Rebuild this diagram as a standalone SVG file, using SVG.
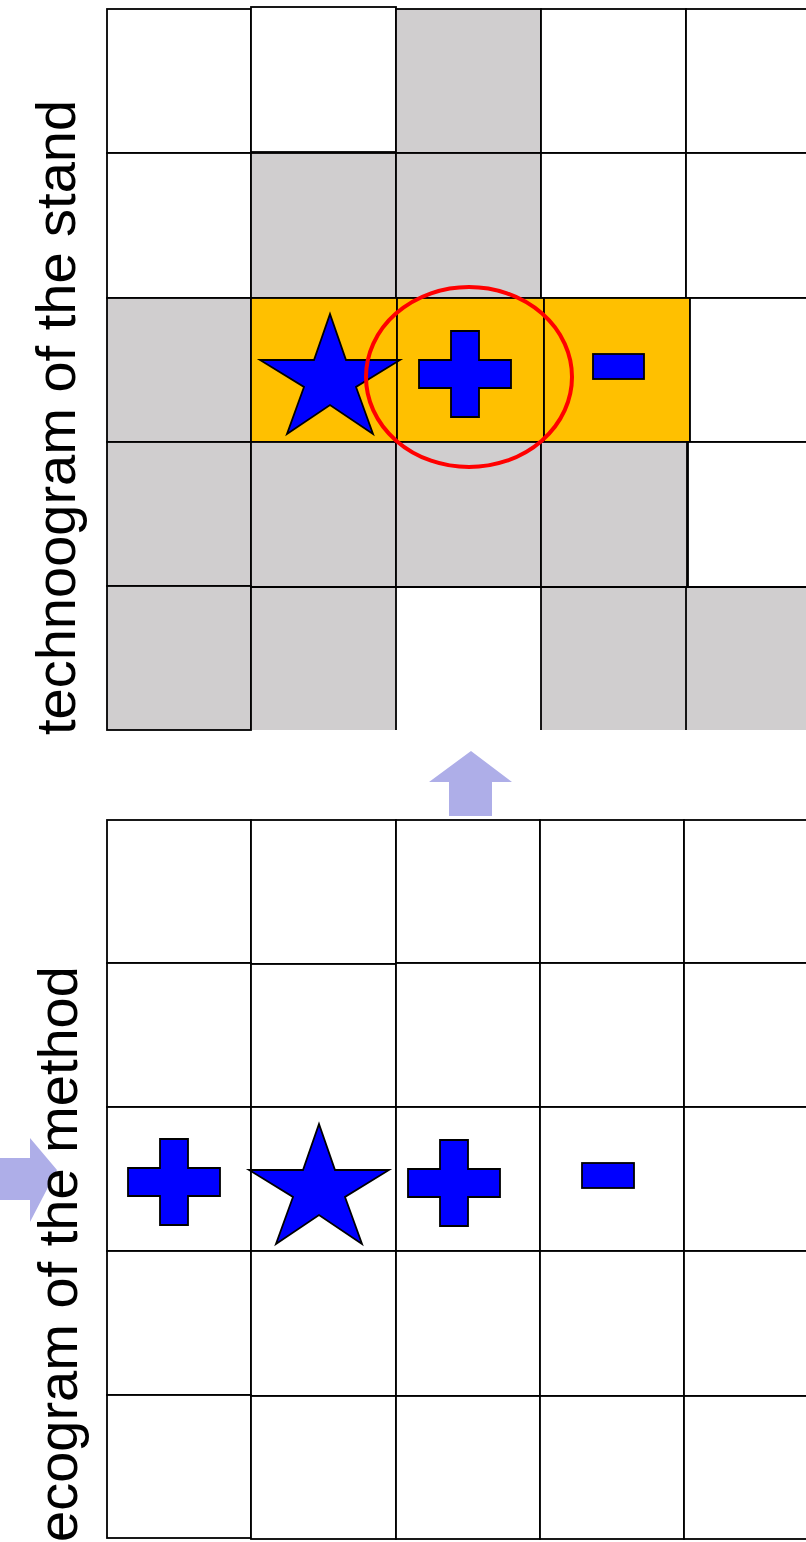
<svg xmlns="http://www.w3.org/2000/svg" width="806" height="1542" viewBox="0 0 806 1542">
<style>
.c{stroke:#000;stroke-width:1.8;}
.w{fill:#fff;}
.g{fill:#D0CECF;}
.o{fill:#FFC000;}
.sym{fill:#0000FF;stroke:#000;stroke-width:1.8;stroke-linejoin:miter;}
.arr{fill:#AEAEE8;stroke:none;}
.lbl{font-family:"Liberation Sans",Arial,sans-serif;font-size:56px;fill:#000;}
</style>
<defs>
<path id="plus" d="M-14,-43 H14 V-14 H46 V14 H14 V43 H-14 V14 H-46 V-14 H-14 Z"/>
<path id="star" d="M0,-61 L16,-15 L70,-15 L26,12 L43,59 L0,30 L-43,59 L-26,12 L-70,-15 L-16,-15 Z"/>
</defs>
<rect width="806" height="1542" fill="#fff"/>

<g id="top-grid">
<rect class="c w" x="107" y="9" width="144" height="144"/>
<rect class="c w" x="251" y="7" width="145" height="145"/>
<rect class="c g" x="396" y="9" width="145" height="144"/>
<rect class="c w" x="541" y="9" width="145" height="144"/>
<rect class="c w" x="686" y="9" width="130" height="144"/>

<rect class="c w" x="107" y="153" width="144" height="145"/>
<rect class="c g" x="251" y="153" width="145" height="145"/>
<rect class="c g" x="396" y="153" width="145" height="145"/>
<rect class="c w" x="541" y="153" width="145" height="145"/>
<rect class="c w" x="686" y="153" width="130" height="145"/>

<rect class="c g" x="107" y="298" width="144" height="144"/>
<rect class="c o" x="251" y="298" width="146" height="144"/>
<rect class="c o" x="397" y="298" width="147" height="144"/>
<rect class="c o" x="544" y="298" width="146" height="144"/>
<rect class="c w" x="690" y="298" width="126" height="144"/>

<rect class="c g" x="107" y="442" width="144" height="144"/>
<rect class="c g" x="251" y="442" width="145" height="145"/>
<rect class="c g" x="396" y="442" width="145" height="145"/>
<rect class="c g" x="541" y="442" width="146" height="145"/>
<rect class="c w" x="688" y="442" width="128" height="145"/>

<rect class="c g" x="107" y="586" width="144" height="144"/>
<rect class="g" x="251" y="587" width="145" height="143"/>
<rect class="w" x="396" y="587" width="145" height="143"/>
<rect class="g" x="541" y="587" width="145" height="143"/>
<rect class="g" x="686" y="587" width="120" height="143"/>
<path class="c" fill="none" d="M251,587 H806 M251,586 V730 M396,587 V730 M541,587 V730 M686,587 V730"/>
</g>

<g id="top-symbols">
<use href="#star" class="sym" x="330" y="375"/>
<use href="#plus" class="sym" x="465" y="374"/>
<rect class="sym" x="593" y="354" width="51" height="25"/>
<ellipse id="highlight" cx="469" cy="377" rx="103" ry="90" fill="none" stroke="#FF0000" stroke-width="4"/>
</g>

<g id="bottom-grid">
<rect class="c w" x="107" y="820" width="144" height="143"/>
<rect class="c w" x="251" y="820" width="145" height="144"/>
<rect class="c w" x="396" y="820" width="144" height="143"/>
<rect class="c w" x="540" y="820" width="144" height="143"/>
<rect class="c w" x="684" y="820" width="132" height="143"/>

<rect class="c w" x="107" y="963" width="144" height="144"/>
<rect class="c w" x="251" y="964" width="145" height="143"/>
<rect class="c w" x="396" y="963" width="144" height="144"/>
<rect class="c w" x="540" y="963" width="144" height="144"/>
<rect class="c w" x="684" y="963" width="132" height="144"/>

<rect class="c w" x="107" y="1107" width="144" height="144"/>
<rect class="c w" x="251" y="1107" width="145" height="144"/>
<rect class="c w" x="396" y="1107" width="144" height="144"/>
<rect class="c w" x="540" y="1107" width="144" height="144"/>
<rect class="c w" x="684" y="1107" width="132" height="144"/>

<rect class="c w" x="107" y="1251" width="144" height="144"/>
<rect class="c w" x="251" y="1251" width="145" height="145"/>
<rect class="c w" x="396" y="1251" width="144" height="145"/>
<rect class="c w" x="540" y="1251" width="144" height="145"/>
<rect class="c w" x="684" y="1251" width="132" height="145"/>

<rect class="c w" x="107" y="1395" width="144" height="143"/>
<rect class="c w" x="251" y="1396" width="145" height="143"/>
<rect class="c w" x="396" y="1396" width="144" height="143"/>
<rect class="c w" x="540" y="1396" width="144" height="143"/>
<rect class="c w" x="684" y="1396" width="132" height="143"/>
</g>

<g id="bottom-symbols">
<use href="#plus" class="sym" x="174" y="1182"/>
<use href="#star" class="sym" x="319" y="1185"/>
<use href="#plus" class="sym" x="454" y="1183"/>
<rect class="sym" x="582" y="1163" width="52" height="25"/>
</g>

<g id="connectors">
<path id="arrow-up" class="arr" d="M471,751 L512,782 L492,782 L492,816 L449,816 L449,782 L429,782 Z"/>
<path id="arrow-right" class="arr" d="M57,1170 L30,1138 L30,1158 L0,1158 L0,1200 L30,1200 L30,1222 Z"/>
</g>

<g id="labels">
<text class="lbl" transform="translate(75,735) rotate(-90)">technoogram of the stand</text>
<text class="lbl" transform="translate(77,1542) rotate(-90)">ecogram of the method</text>
</g>
</svg>
